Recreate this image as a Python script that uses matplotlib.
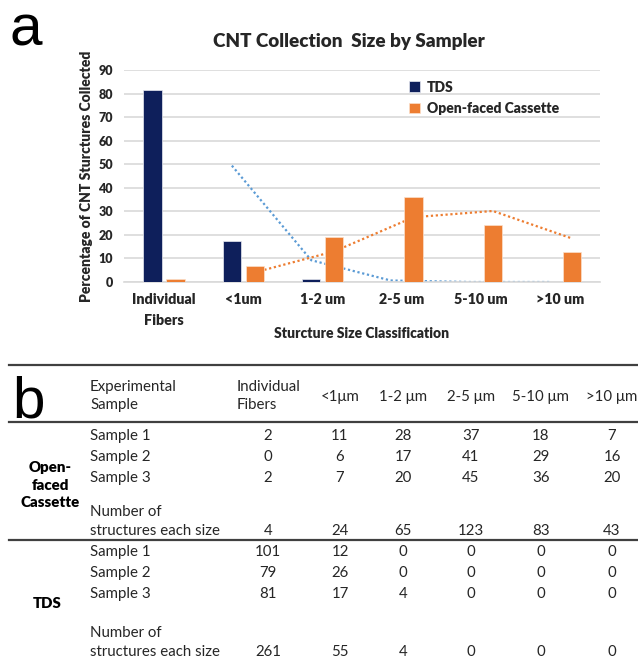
import matplotlib
matplotlib.use("Agg")
import matplotlib.pyplot as plt
from matplotlib.lines import Line2D
import numpy as np

plt.rcParams['font.family'] = ['Lato', 'DejaVu Sans']

W, H = 638, 659

# chart data (percent of structures collected)
categories = ['Individual\nFibers', '<1um', '1-2 um', '2-5 um', '5-10 um', '>10 um']
tds_pct = [81.6, 17.2, 1.3, 0, 0, 0]
ofc_pct = [1.2, 7.0, 19.0, 36.0, 24.3, 12.6]

# table data
size_headers = ['Individual\nFibers', '<1\u03bcm', '1-2 \u03bcm', '2-5 \u03bcm', '5-10 \u03bcm', '>10 \u03bcm']
ofc_rows = [
    ['Sample 1', 2, 11, 28, 37, 18, 7],
    ['Sample 2', 0, 6, 17, 41, 29, 16],
    ['Sample 3', 2, 7, 20, 45, 36, 20],
]
ofc_totals = [4, 24, 65, 123, 83, 43]
tds_rows = [
    ['Sample 1', 101, 12, 0, 0, 0, 0],
    ['Sample 2', 79, 26, 0, 0, 0, 0],
    ['Sample 3', 81, 17, 4, 0, 0, 0],
]
tds_totals = [261, 55, 4, 0, 0, 0]

NAVY = '#0e1f5b'
ORANGE = '#ed7d31'
LBLUE = '#5b9bd5'
BOLD = 'heavy'


def fx(px):
    return px / W


def fy(py):
    return 1 - py / H


fig = plt.figure(figsize=(W / 100, H / 100), dpi=100)
fig.patch.set_facecolor('white')

# ---- panel a: bar chart ----
ax = fig.add_axes([fx(124), fy(282), fx(600) - fx(124), fy(70) - fy(282)])
x = np.arange(len(categories))
bw = 0.23
off_t, off_o = -0.14, 0.15

# 2-period moving average trendlines (drawn behind the bars)
tds_ma = [(a + b) / 2 for a, b in zip(tds_pct[:-1], tds_pct[1:])]
ofc_ma = [(a + b) / 2 for a, b in zip(ofc_pct[:-1], ofc_pct[1:])]
ax.plot(x[1:] + off_t, tds_ma, color=LBLUE, ls=(0, (1, 1.2)), lw=1.6, zorder=2)
ax.plot(x[1:] + off_o, ofc_ma, color=ORANGE, ls=(0, (1, 1.2)), lw=1.6, zorder=2)

ax.bar(x + off_t, tds_pct, bw, color=NAVY, edgecolor='#e8eaf2', lw=0.5, zorder=3, label='TDS')
ax.bar(x + off_o, ofc_pct, bw, color=ORANGE, edgecolor='#fbe0cc', lw=0.5, zorder=3,
       label='Open-faced Cassette')

ax.set_xlim(-0.5, len(categories) - 0.5)
ax.set_ylim(0, 90)
ax.set_yticks(range(0, 91, 10))
ax.yaxis.grid(True, color='#d9d9d9', lw=1.2, zorder=0)
ax.set_axisbelow(True)
for s in ['top', 'right', 'left']:
    ax.spines[s].set_visible(False)
ax.spines['bottom'].set_color('#d9d9d9')
ax.spines['bottom'].set_linewidth(1.2)
ax.tick_params(length=0, labelsize=9, colors='#262626', pad=8)
ax.set_xticks(x)
ax.set_xticklabels(categories, fontweight=BOLD, fontsize=10.3, linespacing=1.7)
for lb in ax.get_yticklabels():
    lb.set_fontweight(BOLD)
ax.tick_params(axis='x', pad=8)
ax.set_ylabel('Percentage of CNT Sturctures Collected', fontweight=BOLD, fontsize=10,
              color='#262626', labelpad=4)
ax.set_xlabel('Sturcture Size Classification', fontweight=BOLD, fontsize=10,
              color='#262626', labelpad=0)

leg = ax.legend(loc='upper left', bbox_to_anchor=(fx(396), fy(68)),
                bbox_transform=fig.transFigure, frameon=False, fontsize=10,
                handlelength=0.8, handleheight=0.8, handletextpad=0.5, labelspacing=0.6)
for t in leg.get_texts():
    t.set_fontweight(BOLD)
    t.set_color('#262626')

fig.text(fx(349), fy(42), 'CNT Collection  Size by Sampler', ha='center', va='center',
         fontsize=13.6, fontweight=BOLD, color='#262626')
fig.text(fx(10), fy(45), 'a', fontsize=42, family='Liberation Sans', ha='left', va='baseline')

# ---- panel b: table ----
fig.text(fx(12), fy(417), 'b', fontsize=42, family='Liberation Sans', ha='left', va='baseline')

for yl in [365, 422, 540]:
    fig.add_artist(Line2D([fx(9), fx(638)], [fy(yl), fy(yl)], color='#404040', lw=1.6))

TS = 10.8
TC = '#262626'
col_x = [268, 340, 403, 471, 541, 612]

fig.text(fx(90), fy(396), 'Experimental\nSample', fontsize=TS, color=TC, ha='left', va='center',
         linespacing=1.35)
fig.text(fx(237), fy(396), size_headers[0], fontsize=TS, color=TC, ha='left', va='center',
         linespacing=1.35)
for cx, h in zip(col_x[1:], size_headers[1:]):
    fig.text(fx(cx), fy(397), h, fontsize=TS, color=TC, ha='center', va='center')


def draw_group(rows, totals, y0, y_total):
    for i, row in enumerate(rows):
        yy = y0 + i * 21
        fig.text(fx(90), fy(yy), row[0], fontsize=TS, color=TC, ha='left', va='center')
        for cx, v in zip(col_x, row[1:]):
            fig.text(fx(cx), fy(yy), str(v), fontsize=TS, color=TC, ha='center', va='center')
    fig.text(fx(90), fy(y_total - 19), 'Number of', fontsize=TS, color=TC, ha='left', va='center')
    fig.text(fx(90), fy(y_total), 'structures each size', fontsize=TS, color=TC, ha='left',
             va='center')
    for cx, v in zip(col_x, totals):
        fig.text(fx(cx), fy(y_total), str(v), fontsize=TS, color=TC, ha='center', va='center')


draw_group(ofc_rows, ofc_totals, 436, 531)
draw_group(tds_rows, tds_totals, 552, 652)

fig.text(fx(50), fy(485), 'Open-\nfaced\nCassette', fontsize=TS, fontweight=BOLD, color='black',
         ha='center', va='center', linespacing=1.45)
fig.text(fx(47), fy(603), 'TDS', fontsize=TS, fontweight=BOLD, color='black',
         ha='center', va='center')

fig.savefig('out.png', dpi=100, facecolor='white')
